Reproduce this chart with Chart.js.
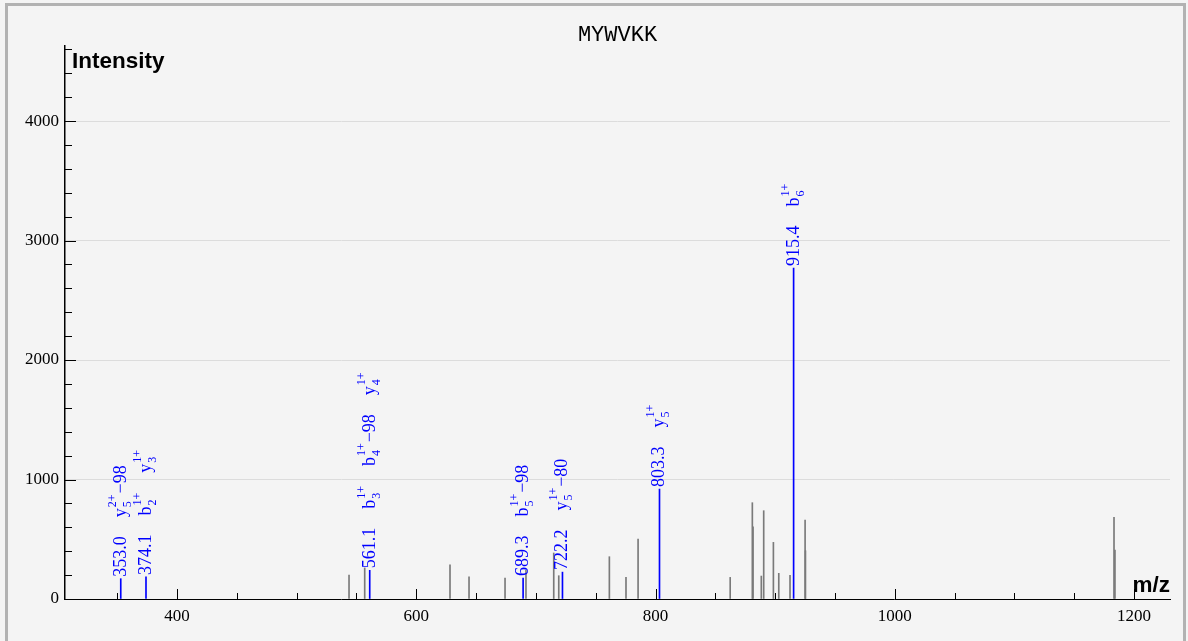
<!DOCTYPE html>
<html>
<head>
<meta charset="utf-8">
<script src="https://cdn.jsdelivr.net/npm/chart.js@4"></script>
<style>
  html, body { margin: 0; padding: 0; background: #f4f4f4; }
  #frame { position: absolute; left: 5px; top: 3px; width: 1175px; height: 700px; border: 3px solid #b2b2b2; background: #f4f4f4; }
  #spectrum { position: absolute; left: 0; top: 0; }
</style>
</head>
<body>
<div id="frame"></div>
<canvas id="spectrum" width="1188" height="641"></canvas>
<script>
// peptide and spectrum peaks
const peptide = 'MYWVKK';

// annotated (matched) peaks
const matchedMz = [353.0, 374.1, 561.1, 689.3, 722.2, 803.3, 915.4];
const matchedIntensity = [170, 185, 240, 175, 225, 920, 2770];
const matchedIons = [
    ['y5^2+−98'],
    ['b2^1+', 'y3^1+'],
    ['b3^1+', 'b4^1+−98', 'y4^1+'],
    ['b5^1+−98'],
    ['y5^1+−80'],
    ['y5^1+'],
    ['b6^1+']
];

// other peaks
const otherMz = [543.8, 556.9, 628.2, 644.1, 674.2, 691.7, 714.9, 719.1, 761.4, 775.3, 785.4, 862.4,
                 880.9, 881.5, 888.4, 890.4, 898.5, 903.0, 912.4, 925.0, 925.3, 1183.2, 1184.0];
const otherIntensity = [200, 260, 285, 185, 175, 240, 385, 195, 354, 181, 502, 181,
                        806, 605, 192, 739, 474, 215, 198, 661, 404, 684, 410];

// axes
const xTicks = [400, 600, 800, 1000, 1200];
const yTicks = [0, 1000, 2000, 3000, 4000];
const xRange = [306.4, 1230];
const yRange = [0, 4628];

const serif = '"Liberation Serif", "DejaVu Serif", serif';

function drawIon(ctx, ion, u) {
    const m = ion.match(/^([a-z])(\d+)\^(\d\+)(.*)$/);
    ctx.font = '18px ' + serif;
    ctx.fillText(m[1], u, 0);
    u += ctx.measureText(m[1]).width;
    ctx.font = '12px ' + serif;
    ctx.fillText(m[2], u + 1, 5);
    ctx.fillText(m[3], u + 1, -10);
    u += Math.max(ctx.measureText(m[2]).width, ctx.measureText(m[3]).width) + 2;
    if (m[4]) {
        ctx.font = '18px ' + serif;
        ctx.fillText(m[4], u, 0);
        u += ctx.measureText(m[4]).width;
    }
    return u;
}

const spectrumDecor = {
    id: 'spectrumDecor',
    afterDatasetsDraw(chart) {
        const { ctx, chartArea, scales: { x, y } } = chart;
        ctx.save();

        // inward tick marks
        ctx.strokeStyle = '#000';
        ctx.lineWidth = 1;
        ctx.beginPath();
        for (let v = 350; v <= 1200; v += 50) {
            const px = Math.round(x.getPixelForValue(v)) + 0.5;
            const len = v % 200 === 0 ? 10 : 6;
            ctx.moveTo(px, chartArea.bottom);
            ctx.lineTo(px, chartArea.bottom - len);
        }
        for (let v = 200; v <= 4600; v += 200) {
            const py = Math.round(y.getPixelForValue(v)) + 0.5;
            const len = v % 1000 === 0 ? 11 : 7;
            ctx.moveTo(chartArea.left, py);
            ctx.lineTo(chartArea.left + len, py);
        }
        ctx.stroke();

        // title and axis names
        ctx.fillStyle = '#000';
        ctx.font = '22px "Liberation Mono", monospace';
        ctx.textAlign = 'center';
        ctx.textBaseline = 'alphabetic';
        ctx.fillText(peptide, (chartArea.left + chartArea.right) / 2, 41);
        ctx.font = 'bold 22.5px "Liberation Sans", Arial, sans-serif';
        ctx.textAlign = 'left';
        ctx.fillText('Intensity', chartArea.left + 7, 68);
        ctx.textAlign = 'right';
        ctx.fillText('m/z', chartArea.right, chartArea.bottom - 7);

        // peak annotations
        ctx.fillStyle = '#0000ff';
        ctx.textAlign = 'left';
        matchedMz.forEach((mz, i) => {
            const px = x.getPixelForValue(mz);
            const py = y.getPixelForValue(matchedIntensity[i]);
            ctx.save();
            ctx.translate(px + 5, py - 2);
            ctx.rotate(-Math.PI / 2);
            ctx.font = '18px ' + serif;
            const num = mz.toFixed(1);
            ctx.fillText(num, 0, 0);
            let u = ctx.measureText(num).width + 19;
            matchedIons[i].forEach(ion => {
                u = drawIon(ctx, ion, u) + 19;
            });
            ctx.restore();
        });
        ctx.restore();
    }
};

const ctx = document.getElementById('spectrum').getContext('2d');
new Chart(ctx, {
    type: 'bar',
    data: {
        datasets: [{
            label: 'other',
            data: otherMz.map((m, i) => ({ x: m, y: otherIntensity[i] })),
            backgroundColor: '#7a7a7a',
            barThickness: 1,
            grouped: false
        }, {
            label: 'matched',
            data: matchedMz.map((m, i) => ({ x: m, y: matchedIntensity[i] })),
            backgroundColor: '#0000ff',
            barThickness: 1,
            grouped: false
        }]
    },
    options: {
        responsive: false,
        animation: false,
        layout: { padding: { left: 0, top: 46, right: 18, bottom: 0 } },
        plugins: { legend: { display: false }, tooltip: { enabled: false } },
        scales: {
            x: {
                type: 'linear',
                min: xRange[0],
                max: xRange[1],
                offset: false,
                grid: { display: true, color: 'rgba(0,0,0,0)', drawTicks: false, offset: false },
                border: { display: true, color: '#000', width: 1 },
                ticks: { color: '#000', padding: 7, font: { family: serif, size: 17 }, maxRotation: 0, callback: v => String(v) },
                afterBuildTicks: scale => { scale.ticks = xTicks.map(v => ({ value: v })); },
                afterFit: scale => { scale.height = 42; }
            },
            y: {
                min: yRange[0],
                max: yRange[1],
                grid: { color: '#dcdcdc', drawTicks: false },
                border: { display: true, color: '#000', width: 1.5 },
                ticks: { color: '#000', padding: 6, font: { family: serif, size: 17 }, callback: v => String(v) },
                afterBuildTicks: scale => { scale.ticks = yTicks.map(v => ({ value: v })); },
                afterFit: scale => { scale.width = 65; }
            }
        }
    },
    plugins: [spectrumDecor]
});
</script>
</body>
</html>
